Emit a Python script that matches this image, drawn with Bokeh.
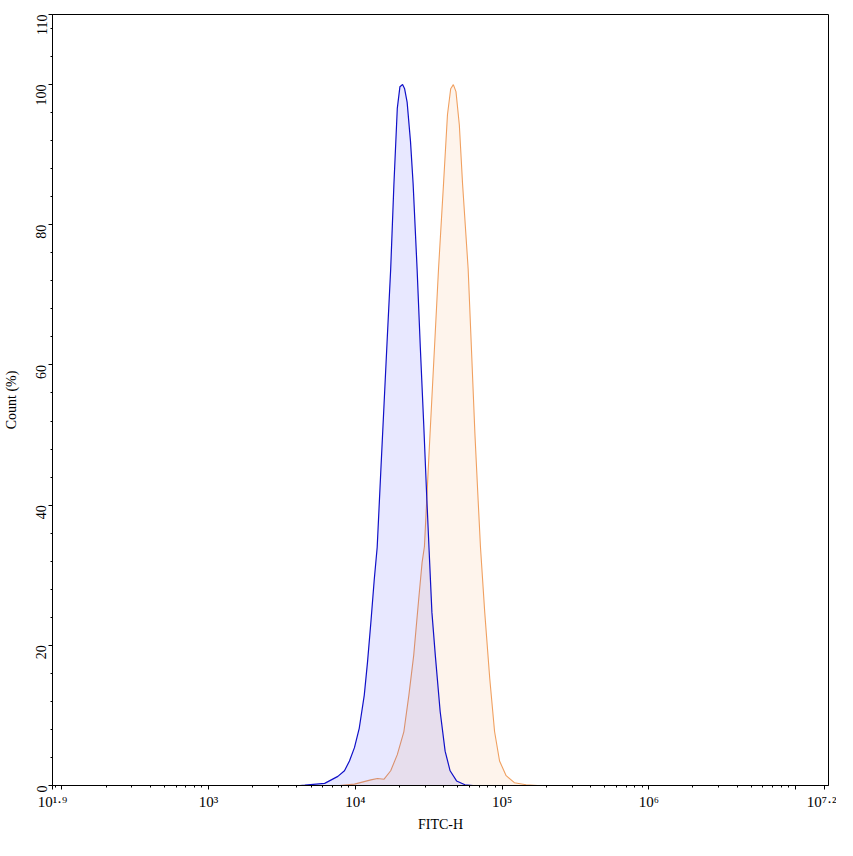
import math
from bokeh.plotting import figure
from bokeh.models import FixedTicker, Range1d
from bokeh.embed import file_html
from bokeh.resources import INLINE

# ---- data (log10 of FITC-H, count %) ----
blue_log = [3.623, 3.656, 3.791, 3.881, 3.926, 3.960, 3.994, 4.027, 4.061, 4.083,
            4.106, 4.129, 4.149, 4.174, 4.196, 4.218, 4.241, 4.263, 4.286, 4.304,
            4.322, 4.336, 4.353, 4.376, 4.394, 4.421, 4.443, 4.466, 4.488, 4.503,
            4.522, 4.545, 4.578, 4.612, 4.646, 4.690, 4.747, 4.803]
blue_pct = [0.0, 0.05, 0.3, 1.3, 2.1, 3.5, 5.4, 8.2, 12.9, 17.6,
            23.3, 29.4, 34.0, 45.0, 54.5, 64.0, 73.7, 85.8, 96.6, 99.7,
            100.0, 99.4, 97.5, 91.9, 85.8, 73.7, 62.5, 51.6, 40.6, 33.5,
            24.7, 18.6, 10.6, 4.9, 2.1, 0.65, 0.1, 0.0]

orange_log = [3.892, 3.994, 4.106, 4.151, 4.196, 4.241, 4.286, 4.331, 4.365, 4.398,
              4.432, 4.455, 4.471, 4.500, 4.522, 4.545, 4.567, 4.601, 4.628, 4.650,
              4.668, 4.686, 4.709, 4.731, 4.769, 4.792, 4.815, 4.837, 4.853, 4.882,
              4.916, 4.949, 4.983, 5.028, 5.084, 5.163, 5.242]
orange_pct = [0.0, 0.2, 0.8, 1.0, 0.9, 2.1, 4.4, 7.7, 12.9, 18.6,
              26.6, 31.8, 34.1, 46.4, 55.4, 64.7, 73.7, 85.8, 95.7, 99.4,
              100.0, 99.0, 94.2, 85.8, 73.7, 62.0, 50.2, 40.7, 34.0, 24.7,
              15.3, 7.7, 3.5, 1.4, 0.4, 0.1, 0.0]

x_range_exps = [1.936, 7.225]
x_tick_exps = [1.936, 2, 3, 4, 5, 6, 7, 7.2]
x_tick_labels = ["10\u00b9\u00b7\u2079", " ", "10\u00b3", "10\u2074", "10\u2075", "10\u2076", " ",
                 "10\u2077\u00b7\u00b2"]
y_major = [0, 20, 40, 60, 80, 100, 110]
y_minor = [v for v in range(4, 110, 4) if v % 20 != 0]

FONT = "Liberation Serif"

blue_x = [10 ** v for v in blue_log]
orange_x = [10 ** v for v in orange_log]

lo, hi = 10 ** x_range_exps[0], 10 ** x_range_exps[1]
p = figure(x_axis_type="log", x_range=Range1d(lo, hi), y_range=Range1d(0, 110),
           width=836, height=834,
           min_border_left=46, min_border_right=8, min_border_top=14, min_border_bottom=45,
           output_backend="svg", toolbar_location=None)
p.background_fill_color = "white"
p.border_fill_color = "white"
p.outline_line_color = "black"
p.outline_line_alpha = 1
p.outline_line_width = 1
p.xgrid.visible = False
p.ygrid.visible = False

# orange (below)
p.varea(x=orange_x, y1=[0] * len(orange_x), y2=orange_pct, fill_color="#F4A460", fill_alpha=0.12)
p.line(orange_x, orange_pct, line_color="#F0A060", line_width=1.1)
# blue (above)
p.varea(x=blue_x, y1=[0] * len(blue_x), y2=blue_pct, fill_color="#0000FF", fill_alpha=0.09)
p.line(blue_x, blue_pct, line_color="#1010C8", line_width=1.2)

minor_x = []
for d in range(1, 8):
    for k in range(2, 10):
        v = k * 10 ** d
        if lo < v < hi:
            minor_x.append(v)

major_x = [10 ** e for e in x_tick_exps]
xa = p.xaxis[0]
xa.ticker = FixedTicker(ticks=major_x, minor_ticks=minor_x)
xa.major_label_overrides = {v: t for v, t in zip(major_x, x_tick_labels)}
xa.major_label_text_font = FONT
xa.major_label_text_font_size = "15px"
xa.major_label_text_color = "black"
xa.major_label_standoff = 4
xa.axis_label = "FITC-H"
xa.axis_label_text_font = FONT
xa.axis_label_text_font_size = "14px"
xa.axis_label_text_font_style = "normal"
xa.axis_label_text_color = "black"
xa.axis_label_standoff = 4

ya = p.yaxis[0]
ya.ticker = FixedTicker(ticks=y_major, minor_ticks=y_minor)
ya.major_label_orientation = math.pi / 2
ya.major_label_text_font = FONT
ya.major_label_text_font_size = "14px"
ya.major_label_text_color = "black"
ya.major_label_standoff = 7
ya.axis_label = "Count (%)"
ya.axis_label_text_font = FONT
ya.axis_label_text_font_size = "14px"
ya.axis_label_text_font_style = "normal"
ya.axis_label_text_color = "black"
ya.axis_label_standoff = 10

for ax in (xa, ya):
    ax.axis_line_color = "black"
    ax.major_tick_line_color = "black"
    ax.minor_tick_line_color = "black"
    ax.major_tick_out = 4
    ax.major_tick_in = 0
    ax.minor_tick_out = 2
    ax.minor_tick_in = 0

open("out.html", "w").write(file_html(p, INLINE))
